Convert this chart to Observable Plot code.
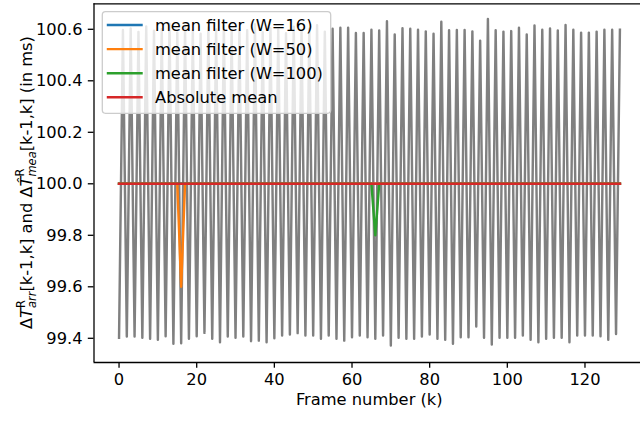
<!DOCTYPE html>
<html>
<head>
<meta charset="utf-8">
<script src="https://cdn.jsdelivr.net/npm/d3@7"></script>
<script src="https://cdn.jsdelivr.net/npm/@observablehq/plot@0.6"></script>
<style>
  html, body { margin: 0; padding: 0; background: #fff; overflow: hidden; }
  #chart svg { display: block; }
</style>
</head>
<body>
<div id="chart"></div>
<script>
// Measured inter-arrival time ΔT (ms) for even frames k = 0, 2, …, 128
const evenFrameDelta = [
  99.402, 99.407, 99.407, 99.402, 99.398, 99.394, 99.408, 99.379, 99.381, 99.398,
  99.408, 99.421, 99.398, 99.385, 99.407, 99.402, 99.407, 99.389, 99.391, 99.385,
  99.400, 99.411, 99.415, 99.420, 99.411, 99.411, 99.398, 99.411, 99.398, 99.391,
  99.404, 99.411, 99.404, 99.398, 99.411, 99.372, 99.402, 99.398, 99.398, 99.407,
  99.415, 99.398, 99.394, 99.379, 99.404, 99.404, 99.446, 99.402, 99.376, 99.402,
  99.402, 99.402, 99.411, 99.394, 99.385, 99.398, 99.402, 99.402, 99.385, 99.411,
  99.411, 99.411, 99.408, 99.394, 99.417
];
// … and for odd frames k = 1, 3, …, 129
const oddFrameDelta = [
  100.597, 100.603, 100.590, 100.611, 100.594, 100.600, 100.622, 100.588, 100.605, 100.596,
  100.583, 100.607, 100.599, 100.614, 100.592, 100.601, 100.596, 100.620, 100.589, 100.604,
  100.598, 100.585, 100.610, 100.595, 100.602, 100.616, 100.591, 100.602, 100.606, 100.606,
  100.586, 100.586, 100.598, 100.595, 100.631, 100.580, 100.604, 100.602, 100.598, 100.592,
  100.583, 100.629, 100.596, 100.597, 100.597, 100.592, 100.556, 100.640, 100.596, 100.591,
  100.593, 100.606, 100.580, 100.615, 100.598, 100.603, 100.595, 100.617, 100.598, 100.587,
  100.587, 100.591, 100.598, 100.598, 100.598
];

// Filtered estimates: vertices (frame, value) of each piecewise-linear series
const meanW16Frames  = [0, 129];
const meanW16Values  = [100.0, 100.0];
const meanW50Frames  = [0, 15, 16, 17, 129];
const meanW50Values  = [100.0, 100.0, 99.6, 100.0, 100.0];
const meanW100Frames = [0, 65, 66, 67, 129];
const meanW100Values = [100.0, 100.0, 99.8, 100.0, 100.0];
const absMeanFrames  = [0, 129];
const absMeanValues  = [100.0, 100.0];

const seriesLabels = ["mean filter (W=16)", "mean filter (W=50)", "mean filter (W=100)", "Absolute mean"];
const seriesColors = ["#1f77b4", "#ff7f0e", "#2ca02c", "#d62728"];

const xTicks = [0, 20, 40, 60, 80, 100, 120];
const yTicks = [99.4, 99.6, 99.8, 100.0, 100.2, 100.4, 100.6];
const xDomain = [-6.45, 134.3];
const yDomain = [99.306, 100.699];

// Interleave even/odd frames into one per-frame series
const frames = [];
const delta = [];
for (let i = 0; i < evenFrameDelta.length; i++) {
  frames.push(2 * i);     delta.push(evenFrameDelta[i]);
  frames.push(2 * i + 1); delta.push(oddFrameDelta[i]);
}

const filters = [
  [meanW16Frames, meanW16Values],
  [meanW50Frames, meanW50Values],
  [meanW100Frames, meanW100Values],
  [absMeanFrames, absMeanValues]
];

const FS = 16.3;     // base font size (px)
const LW = 2.44;     // line width (px)
const TICK = 5.7;

const chart = Plot.plot({
  width: 640,
  height: 421,
  marginLeft: 93.5,
  marginRight: 0,
  marginTop: 3.3,
  marginBottom: 59,
  style: { fontFamily: "DejaVu Sans", fontSize: FS + "px", color: "black", background: "white" },
  x: { domain: xDomain },
  y: { domain: yDomain },
  marks: [
    Plot.line(delta, { x: frames, y: delta, stroke: "#808080", strokeWidth: LW,
                       strokeLinejoin: "round", strokeLinecap: "square" }),
    ...filters.map(([f, v], i) =>
      Plot.line(v, { x: f, y: v, stroke: seriesColors[i], strokeWidth: LW,
                     strokeLinejoin: "round", strokeLinecap: "square" })),
    Plot.axisX({ ticks: xTicks, tickSize: TICK, tickPadding: TICK, strokeWidth: 1.3,
                 fill: "black", label: null, fontSize: FS }),
    Plot.axisY({ ticks: yTicks, tickSize: TICK, tickPadding: TICK, strokeWidth: 1.3,
                 tickFormat: d3.format(".1f"), fill: "black", label: null, fontSize: FS }),
    // spines: left, top, bottom
    Plot.ruleY(yDomain, { stroke: "black", strokeWidth: 1.3 }),
    Plot.ruleX([xDomain[0]], { stroke: "black", strokeWidth: 1.3 }),
    Plot.text(["Frame number (k)"], { frameAnchor: "bottom", dx: 2, dy: 42,
                                      fill: "black", fontSize: FS })
  ]
});

document.getElementById("chart").appendChild(chart);
const svg = d3.select(chart);

// y-axis label with super/subscripts
const yl = svg.append("text")
  .attr("transform", "translate(32,182.6) rotate(-90)")
  .attr("text-anchor", "middle")
  .attr("font-family", "DejaVu Sans")
  .attr("font-size", FS)
  .attr("fill", "black");
const SS = FS * 0.7;
const parts = [
  { t: "Δ" },
  { t: "T", it: true },
  { t: "R", fs: SS, dy: -7 },
  { t: "arr", fs: SS, it: true, dx: -7.9, dy: 10.5 },
  { t: "[k-1,k] and Δ", dy: -3.5 },
  { t: "T\u0302", it: true },
  { t: "R", fs: SS, dy: -8 },
  { t: "mea", fs: SS, it: true, dx: -7.9, dy: 11.5 },
  { t: "[k-1,k] (in ms)", dy: -3.5 }
];
for (const p of parts) {
  const ts = yl.append("tspan").text(p.t);
  if (p.fs) ts.attr("font-size", p.fs);
  if (p.it) ts.attr("font-style", "italic");
  if (p.dx) ts.attr("dx", p.dx);
  if (p.dy) ts.attr("dy", p.dy);
}

// legend box
const lg = svg.append("g").attr("text-anchor", "start");
lg.append("rect")
  .attr("x", 102.3).attr("y", 11.7).attr("width", 228.4).attr("height", 101.6)
  .attr("rx", 3.2)
  .attr("fill", "white").attr("fill-opacity", 0.8)
  .attr("stroke", "#cccccc").attr("stroke-width", 1.3);
seriesLabels.forEach((label, i) => {
  const y = 25 + 24.1 * i;
  lg.append("line")
    .attr("x1", 108).attr("x2", 141.5).attr("y1", y).attr("y2", y)
    .attr("stroke", seriesColors[i]).attr("stroke-width", LW)
    .attr("stroke-linecap", "square");
  lg.append("text")
    .attr("x", 155).attr("y", y).attr("dy", "0.35em")
    .attr("text-anchor", "start")
    .attr("font-family", "DejaVu Sans").attr("font-size", FS).attr("fill", "black")
    .text(label);
});
</script>
</body>
</html>
